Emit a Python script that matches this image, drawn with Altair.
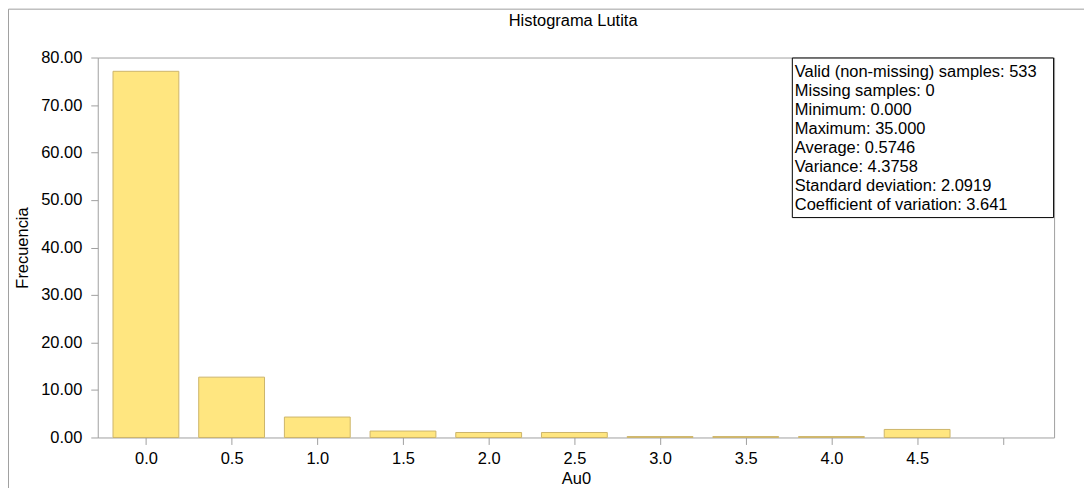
import altair as alt
import pandas as pd

# ---- data ----
bin_centers = [0.0, 0.5, 1.0, 1.5, 2.0, 2.5, 3.0, 3.5, 4.0, 4.5]
frecuencia = [77.1, 12.7, 4.3, 1.35, 1.05, 1.05, 0.19, 0.19, 0.19, 1.69]
x_ticks = [0.0, 0.5, 1.0, 1.5, 2.0, 2.5, 3.0, 3.5, 4.0, 4.5, 5.0]
y_ticks = [0, 10, 20, 30, 40, 50, 60, 70, 80]
stats_lines = [
    "Valid (non-missing) samples: 533",
    "Missing samples: 0",
    "Minimum: 0.000",
    "Maximum: 35.000",
    "Average: 0.5746",
    "Variance: 4.3758",
    "Standard deviation: 2.0919",
    "Coefficient of variation: 3.641",
]
title_text = ["Histograma Lutita"]
x_title = "Au0"
y_title = "Frecuencia"

FONT = "Liberation Sans"
FS = 16.5
W, H = 959, 381

df = pd.DataFrame({"center": bin_centers, "freq": frecuencia})
stats_df = pd.DataFrame({"line": stats_lines, "idx": list(range(len(stats_lines)))})
title_df = pd.DataFrame({"t": title_text})
one = pd.DataFrame({"k": [0]})

bars = alt.Chart(df).mark_bar(
    size=66, fill="#FFE680", stroke="#CDB56A", strokeWidth=1
).encode(
    x=alt.X(
        "center:Q",
        scale=alt.Scale(domain=[-0.252, 5.27], nice=False, zero=False),
        axis=alt.Axis(
            values=x_ticks,
            labelExpr="datum.value >= 5 ? '' : format(datum.value, '.1f')",
            title=x_title,
            grid=False,
            domain=False,
            tickSize=7,
            tickColor="#a0a0a0",
            labelPadding=6,
            titlePadding=4,
        ),
    ),
    y=alt.Y(
        "freq:Q",
        scale=alt.Scale(domain=[0, 80], nice=False),
        axis=alt.Axis(
            values=y_ticks,
            format=".2f",
            title=y_title,
            grid=False,
            domain=False,
            tickSize=7,
            tickColor="#a0a0a0",
            labelPadding=9,
            titlePadding=10,
        ),
    ),
)

box = alt.Chart(one).mark_rect(fill="white", stroke="black", strokeWidth=1).encode(
    x=alt.value(696.5), x2=alt.value(958.5), y=alt.value(0.5), y2=alt.value(160.5)
)

stats = alt.Chart(stats_df).mark_text(
    align="left", baseline="middle", font=FONT, fontSize=FS, color="black"
).transform_calculate(
    ypix="14.7 + 19 * datum.idx"
).encode(
    x=alt.value(699),
    y=alt.Y("ypix:Q", scale=None),
    text="line:N",
)

title = alt.Chart(title_df).mark_text(
    align="center", baseline="middle", font=FONT, fontSize=FS, color="black"
).encode(
    x=alt.value(476.7), y=alt.value(-36.3), text="t:N"
)

frame_top = alt.Chart(one).mark_rule(color="#a0a0a0", strokeWidth=1).encode(
    x=alt.value(-89.5), x2=alt.value(W + 40), y=alt.value(-48.5)
)
frame_left = alt.Chart(one).mark_rule(color="#a0a0a0", strokeWidth=1).encode(
    x=alt.value(-89.5), y=alt.value(-48.5), y2=alt.value(H + 60)
)

chart = alt.layer(frame_top, frame_left, bars, box, stats, title).properties(
    width=W,
    height=H,
    autosize=alt.AutoSizeParams(type="none"),
    padding={"left": 90, "top": 49, "right": 30, "bottom": 50},
).configure_view(
    stroke="#a0a0a0", strokeWidth=1
).configure_axis(
    labelFont=FONT, labelFontSize=FS, labelColor="black",
    titleFont=FONT, titleFontSize=FS, titleFontWeight="normal", titleColor="black",
)

chart.save("out.html", embed_options={"renderer": "svg", "actions": False})
